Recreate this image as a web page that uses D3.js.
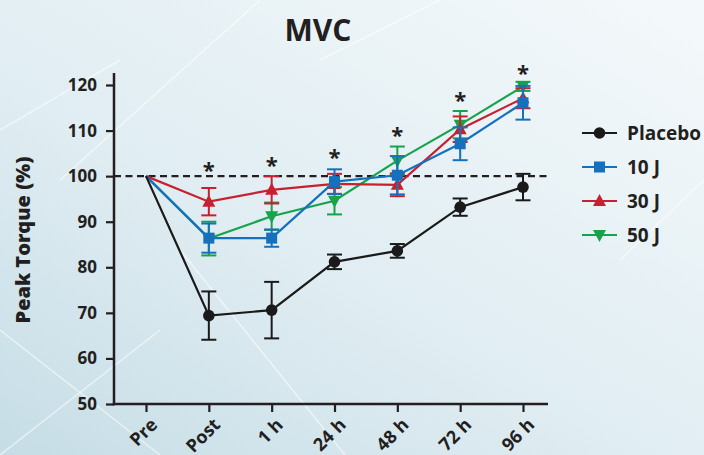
<!DOCTYPE html>
<html><head><meta charset="utf-8">
<script src="https://cdn.jsdelivr.net/npm/d3@7"></script>
<style>
html,body{margin:0;padding:0;overflow:hidden;}
svg{display:block;font-family:"Open Sans","Noto Sans",sans-serif;}
</style></head>
<body>
<script>
const categories = ["Pre","Post","1 h","24 h","48 h","72 h","96 h"];
const yTicks = [50,60,70,80,90,100,110,120];
const placebo = [100, 69.4, 70.6, 81.2, 83.6, 93.2, 97.6];
const placeboErr = [0, 5.3, 6.2, 1.6, 1.5, 1.9, 2.9];
const j10 = [100, 86.4, 86.4, 98.8, 100.2, 107.1, 116.1];
const j10Err = [0, 3.2, 1.9, 2.7, 4.2, 3.6, 3.7];
const j30 = [100, 94.4, 97.0, 98.3, 98.1, 110.3, 117.1];
const j30Err = [0, 3.0, 3.0, 2.2, 2.5, 2.8, 2.2];
const j50 = [100, 86.3, 91.2, 94.6, 103.4, 111.3, 119.7];
const j50Err = [0, 3.7, 3.0, 3.0, 3.1, 3.0, 1.0];
const starCats = ["Post","1 h","24 h","48 h","72 h","96 h"];
const starVals = [101.0, 102.1, 104.0, 108.8, 116.5, 122.3];

const W = 704, H = 455;
const svg = d3.select("body").append("svg").attr("width", W).attr("height", H);

// background
const defs = svg.append("defs");
const g1 = defs.append("linearGradient").attr("id","bg").attr("x1","0").attr("y1","1").attr("x2","0.9").attr("y2","0");
g1.append("stop").attr("offset","0").attr("stop-color","#c6dde6");
g1.append("stop").attr("offset","0.45").attr("stop-color","#e0edf2");
g1.append("stop").attr("offset","1").attr("stop-color","#f3f8fa");
svg.append("rect").attr("width",W).attr("height",H).attr("fill","url(#bg)");
const streaks = [[0,330,160,455],[180,250,345,455],[0,130,120,60],[60,180,260,0],[320,60,440,0],[620,260,704,180],[0,455,160,330]];
svg.append("g").selectAll("line").data(streaks).join("line")
  .attr("x1",d=>d[0]).attr("y1",d=>d[1]).attr("x2",d=>d[2]).attr("y2",d=>d[3])
  .attr("stroke","#ffffff").attr("stroke-opacity",0.55).attr("stroke-width",1.5);

const x = d3.scalePoint().domain(categories).range([146, 523]);
const y = d3.scaleLinear().domain([50,120]).range([404, 85]);
const axisLeftX = 114, axisRightX = 548;
const ink = "#231f20";

// title
svg.append("text").attr("x",318).attr("y",41).attr("text-anchor","middle")
  .attr("font-size",30).attr("font-weight",700).attr("fill",ink).text("MVC");

// y label
svg.append("text").attr("transform",`translate(30,240) rotate(-90)`).attr("text-anchor","middle")
  .attr("font-size",20).attr("font-weight",800).attr("fill",ink).text("Peak Torque (%)");

// y axis
const yAxis = svg.append("g").attr("transform",`translate(${axisLeftX},0)`)
  .call(d3.axisLeft(y).tickValues(yTicks).tickSize(8).tickPadding(9));
yAxis.select(".domain").remove();
yAxis.selectAll(".tick line").attr("stroke",ink).attr("stroke-width",2.2);
yAxis.selectAll(".tick text").attr("font-size",17).attr("font-weight",700).attr("fill",ink)
  .attr("font-family","'Open Sans',sans-serif");
svg.append("line").attr("x1",axisLeftX).attr("x2",axisLeftX).attr("y1",y(120)-12).attr("y2",y(50)+1.2)
  .attr("stroke",ink).attr("stroke-width",2.5);

// x axis
const xAxis = svg.append("g").attr("transform",`translate(0,${y(50)})`)
  .call(d3.axisBottom(x).tickSize(8).tickPadding(0));
xAxis.select(".domain").remove();
xAxis.selectAll(".tick line").attr("stroke",ink).attr("stroke-width",2.2);
xAxis.selectAll(".tick text").attr("font-size",18).attr("font-weight",700).attr("fill",ink)
  .attr("font-family","'Open Sans',sans-serif")
  .attr("text-anchor","end").attr("dy",0).attr("y",0)
  .attr("transform","translate(12,22) rotate(-45)");
svg.append("line").attr("x1",axisLeftX-1.2).attr("x2",axisRightX).attr("y1",y(50)).attr("y2",y(50))
  .attr("stroke",ink).attr("stroke-width",2.5);

// dashed 100 line
svg.append("line").attr("x1",axisLeftX).attr("x2",axisRightX).attr("y1",y(100)).attr("y2",y(100))
  .attr("stroke",ink).attr("stroke-width",2.2).attr("stroke-dasharray","7,4.5");

const series = [
  {name:"50 J", vals:j50, err:j50Err, color:"#16a34a", shape:"tdown"},
  {name:"30 J", vals:j30, err:j30Err, color:"#c8202f", shape:"tup"},
  {name:"10 J", vals:j10, err:j10Err, color:"#1570bd", shape:"square"},
  {name:"Placebo", vals:placebo, err:placeboErr, color:"#1a1a1a", shape:"circle"}
];

function marker(sel, shape, color){
  if(shape==="circle") sel.append("circle").attr("r",5.8).attr("fill",color);
  else if(shape==="square") sel.append("rect").attr("x",-5.5).attr("y",-5.5).attr("width",11).attr("height",11).attr("fill",color);
  else if(shape==="tup") sel.append("path").attr("d","M0,-7 L6.5,5 L-6.5,5 Z").attr("fill",color);
  else sel.append("path").attr("d","M0,7 L6.5,-5 L-6.5,-5 Z").attr("fill",color);
}

const line = d3.line().x(d=>x(d.c)).y(d=>y(d.v));
series.forEach(s=>{
  const pts = categories.map((c,i)=>({c, v:s.vals[i], e:s.err[i]}));
  const g = svg.append("g");
  const eb = g.selectAll("g.eb").data(pts.filter(p=>p.e>0)).join("g");
  eb.append("line").attr("x1",d=>x(d.c)).attr("x2",d=>x(d.c)).attr("y1",d=>y(d.v+d.e)).attr("y2",d=>y(d.v-d.e))
    .attr("stroke",s.color).attr("stroke-width",2);
  eb.append("line").attr("x1",d=>x(d.c)-7.5).attr("x2",d=>x(d.c)+7.5).attr("y1",d=>y(d.v+d.e)).attr("y2",d=>y(d.v+d.e))
    .attr("stroke",s.color).attr("stroke-width",2);
  eb.append("line").attr("x1",d=>x(d.c)-7.5).attr("x2",d=>x(d.c)+7.5).attr("y1",d=>y(d.v-d.e)).attr("y2",d=>y(d.v-d.e))
    .attr("stroke",s.color).attr("stroke-width",2);
  g.append("path").attr("d",line(pts)).attr("fill","none").attr("stroke",s.color).attr("stroke-width",2.2);
  g.selectAll("g.m").data(pts.slice(1)).join("g")
    .attr("transform",d=>`translate(${x(d.c)},${y(d.v)})`)
    .each(function(){ marker(d3.select(this), s.shape, s.color); });
});

// asterisks
svg.append("g").selectAll("text").data(starCats.map((c,i)=>({c,v:starVals[i]}))).join("text")
  .attr("x",d=>x(d.c)).attr("y",d=>y(d.v)).attr("text-anchor","middle")
  .attr("font-size",22).attr("font-weight",700).attr("fill",ink).attr("dy","0.3em").text("*");

// legend
const legendOrder = ["Placebo","10 J","30 J","50 J"];
const legendY = [133, 167, 201, 235];
const lg = svg.append("g");
legendOrder.forEach((n,i)=>{
  const s = series.find(q=>q.name===n);
  const row = lg.append("g").attr("transform",`translate(0,${legendY[i]})`);
  row.append("line").attr("x1",582).attr("x2",617).attr("stroke",s.color).attr("stroke-width",2.2);
  marker(row.append("g").attr("transform","translate(599.5,0)"), s.shape, s.color);
  row.append("text").attr("x",627).attr("y",0).attr("dy","0.36em").attr("font-size",19)
    .attr("font-weight",700).attr("fill",ink).text(n);
});
</script>
</body></html>
